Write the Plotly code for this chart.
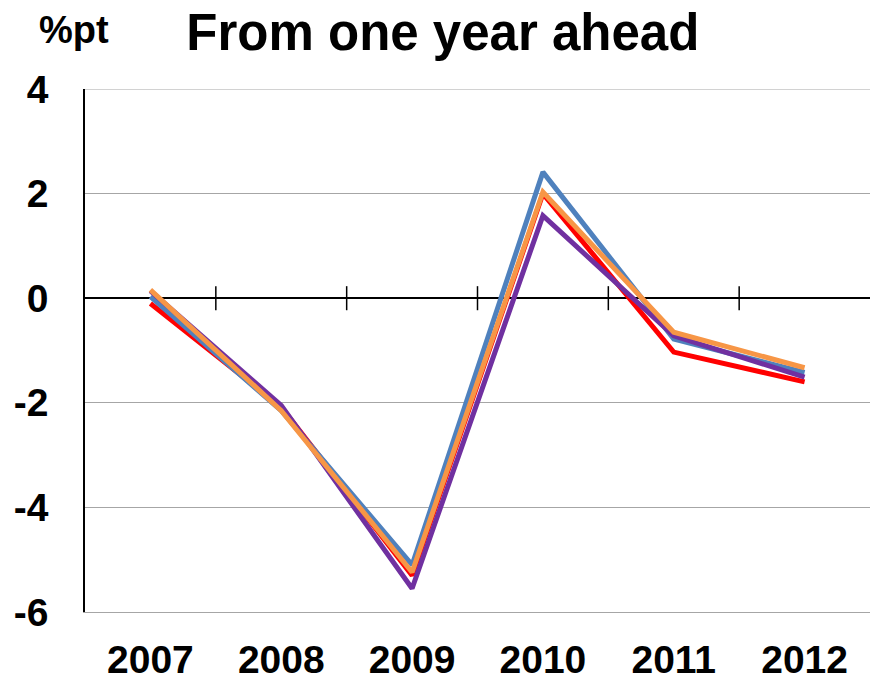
import plotly.graph_objects as go

years = ["2007", "2008", "2009", "2010", "2011", "2012"]
series_names = ["Red", "Blue", "Purple", "Orange"]
red = [-0.10, -2.08, -5.30, 2.00, -1.03, -1.60]
blue = [0.03, -2.15, -5.10, 2.41, -0.78, -1.42]
purple = [0.14, -2.05, -5.55, 1.58, -0.72, -1.51]
orange = [0.16, -2.15, -5.24, 2.03, -0.65, -1.33]
colors = ["#FF0000", "#4F81BD", "#7030A0", "#F79646"]
yticks = [-6, -4, -2, 0, 2, 4]

FONT = "Liberation Sans, Arial, sans-serif"
xs = list(range(len(years)))

fig = go.Figure()
for name, vals, c in zip(series_names, [red, blue, purple, orange], colors):
    fig.add_trace(go.Scatter(x=xs, y=vals, mode="lines", name=name,
                             line=dict(color=c, width=5), showlegend=False))

# tick marks crossing the zero line at category boundaries
for i in range(1, len(years)):
    fig.add_shape(type="line", xref="x", yref="y", x0=i - 0.5, x1=i - 0.5,
                  y0=-0.23, y1=0.23, line=dict(color="black", width=1.5), layer="below")
# top border
fig.add_shape(type="line", xref="paper", yref="y", x0=0, x1=1, y0=4, y1=4,
              line=dict(color="#A6A6A6", width=1.2), layer="below")

fig.update_layout(
    width=870, height=680,
    margin=dict(l=85, r=0, t=89, b=68, autoexpand=False),
    plot_bgcolor="white", paper_bgcolor="white",
    font=dict(family=FONT, color="black"),
    title=dict(text="<b>From one year ahead</b>", x=0.509, xanchor="center",
               y=1 - 32 / 680, yanchor="middle", font=dict(size=51, family=FONT)),
    xaxis=dict(range=[-0.5, len(years) - 0.5], tickvals=xs, ticktext=[f"<b>{y}</b>" for y in years],
               automargin=False,
               showgrid=False, zeroline=False, showline=True, linecolor="#A6A6A6", linewidth=1.2,
               ticks="", tickfont=dict(size=39, family=FONT), ticklabelstandoff=13),
    yaxis=dict(range=[-6, 4], tickvals=yticks, ticktext=[f"<b>{v}</b>" for v in yticks],
               automargin=False,
               showgrid=True, gridcolor="#A6A6A6", gridwidth=1.2,
               zeroline=True, zerolinecolor="black", zerolinewidth=2,
               showline=True, linecolor="black", linewidth=1.5,
               ticks="", tickfont=dict(size=39, family=FONT), ticklabelstandoff=27),
    annotations=[dict(text="<b>%pt</b>", xref="paper", yref="paper", x=(74 - 85) / 785,
                      y=1 + (89 - 30) / 523, xanchor="center", yanchor="middle",
                      showarrow=False, font=dict(size=38, family=FONT))],
)

fig.write_html("out.html")
